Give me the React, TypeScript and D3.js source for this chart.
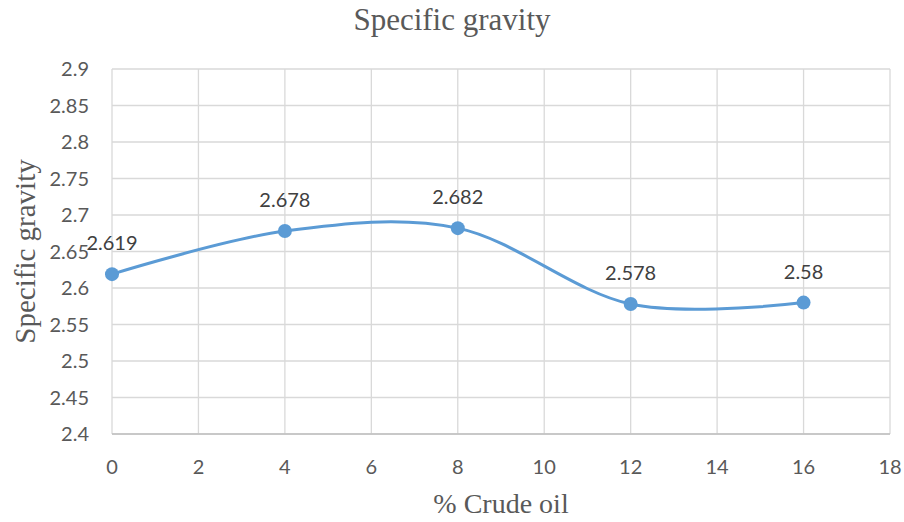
import { useEffect, useRef } from 'react';
import * as d3 from 'd3';

const crudeOil = [0, 4, 8, 12, 16];
const gravity = [2.619, 2.678, 2.682, 2.578, 2.58];
const xTicks = [0, 2, 4, 6, 8, 10, 12, 14, 16, 18];
const yTicks = [2.4, 2.45, 2.5, 2.55, 2.6, 2.65, 2.7, 2.75, 2.8, 2.85, 2.9];

const App = () => {
  const ref = useRef<SVGSVGElement>(null);

  useEffect(() => {
    const svg = d3.select(ref.current);
    svg.selectAll('*').remove();

    const left = 112, right = 890, top = 69, bottom = 434;
    const x = d3.scaleLinear().domain([0, 18]).range([left, right]);
    const y = d3.scaleLinear().domain([2.4, 2.9]).range([bottom, top]);
    const sans = "Lato, 'Open Sans', sans-serif";
    const serif = "'Liberation Serif', 'Times New Roman', serif";

    // grid
    svg.append('g')
      .selectAll('line')
      .data(yTicks)
      .join('line')
      .attr('x1', left).attr('x2', right)
      .attr('y1', d => y(d)).attr('y2', d => y(d))
      .attr('stroke', '#d9d9d9').attr('stroke-width', 1.3);
    svg.append('g')
      .selectAll('line')
      .data(xTicks)
      .join('line')
      .attr('x1', d => x(d)).attr('x2', d => x(d))
      .attr('y1', top).attr('y2', bottom)
      .attr('stroke', '#d9d9d9').attr('stroke-width', 1.3);
    svg.append('line')
      .attr('x1', left).attr('x2', right)
      .attr('y1', bottom).attr('y2', bottom)
      .attr('stroke', '#bfbfbf').attr('stroke-width', 1.3);

    // tick labels
    svg.append('g')
      .selectAll('text')
      .data(yTicks)
      .join('text')
      .attr('x', 89).attr('y', d => y(d))
      .attr('dy', '0.35em')
      .attr('text-anchor', 'end')
      .attr('font-family', sans).attr('font-size', 20)
      .attr('fill', '#595959')
      .text(d => String(d));
    svg.append('g')
      .selectAll('text')
      .data(xTicks)
      .join('text')
      .attr('x', d => x(d)).attr('y', 467)
      .attr('dy', '0.35em')
      .attr('text-anchor', 'middle')
      .attr('font-family', sans).attr('font-size', 20)
      .attr('fill', '#595959')
      .text(d => String(d));

    // titles
    svg.append('text')
      .attr('x', 452).attr('y', 30)
      .attr('text-anchor', 'middle')
      .attr('font-family', serif).attr('font-size', 31)
      .attr('fill', '#595959')
      .text('Specific gravity');
    svg.append('text')
      .attr('x', 501).attr('y', 513)
      .attr('text-anchor', 'middle')
      .attr('font-family', serif).attr('font-size', 28)
      .attr('fill', '#595959')
      .text('% Crude oil');
    svg.append('text')
      .attr('transform', `translate(35,${(top + bottom) / 2}) rotate(-90)`)
      .attr('text-anchor', 'middle')
      .attr('font-family', serif).attr('font-size', 29)
      .attr('fill', '#595959')
      .text('Specific gravity');

    const pts: [number, number][] = crudeOil.map((c, i) => [c, gravity[i]]);

    const line = d3.line<[number, number]>()
      .x(d => x(d[0]))
      .y(d => y(d[1]))
      .curve(d3.curveCardinal.tension(0));

    svg.append('path')
      .datum(pts)
      .attr('d', line)
      .attr('fill', 'none')
      .attr('stroke', '#5b9bd5')
      .attr('stroke-width', 3);

    svg.append('g')
      .selectAll('circle')
      .data(pts)
      .join('circle')
      .attr('cx', d => x(d[0])).attr('cy', d => y(d[1]))
      .attr('r', 7)
      .attr('fill', '#5b9bd5');

    svg.append('g')
      .selectAll('text')
      .data(pts)
      .join('text')
      .attr('x', d => x(d[0])).attr('y', d => y(d[1]) - 31)
      .attr('dy', '0.35em')
      .attr('text-anchor', 'middle')
      .attr('font-family', sans).attr('font-size', 20)
      .attr('fill', '#404040')
      .text(d => String(d[1]));
  }, []);

  return (
    <svg
      ref={ref}
      width={904}
      height={522}
      style={{ display: 'block', position: 'absolute', left: 0, top: 0 }}
    />
  );
};

export default App;
